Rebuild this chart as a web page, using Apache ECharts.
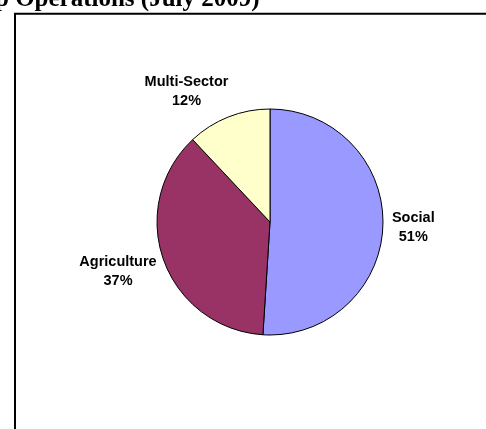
<!DOCTYPE html>
<html>
<head>
<meta charset="utf-8">
<script src="https://cdn.jsdelivr.net/npm/echarts@6/dist/echarts.min.js"></script>
<style>
html,body{margin:0;padding:0;background:#fff;}
#chart{width:486px;height:429px;}
</style>
</head>
<body>
<div id="chart"></div>
<script>
const titleText = 'p Operations (July 2009)';
const categories = ['Social', 'Agriculture', 'Multi-Sector'];
const values = [51, 37, 12];
const sliceColors = ['#9999FF', '#993366', '#FFFFCC'];
// label nudges (style only)
const labelNudges = [[4, 2], [-2, 11], [5, -25]];

const chart = echarts.init(document.getElementById('chart'), null, {renderer: 'canvas'});
chart.setOption({
  animation: false,
  backgroundColor: '#ffffff',
  title: {
    text: titleText,
    left: -5,
    top: -13,
    padding: 0,
    textStyle: {fontFamily: '"Liberation Serif", serif', fontWeight: 'bold', fontSize: 25, color: '#000'}
  },
  graphic: [{
    type: 'rect',
    shape: {x: 15, y: 13.7, width: 600, height: 600},
    style: {fill: 'none', stroke: '#000', lineWidth: 2},
    silent: true
  }],
  series: [{
    type: 'pie',
    center: [270, 222],
    radius: 113,
    startAngle: 90,
    clockwise: true,
    avoidLabelOverlap: false,
    data: categories.map((c, i) => ({name: c, value: values[i], itemStyle: {color: sliceColors[i]}})),
    itemStyle: {borderColor: '#000', borderWidth: 1},
    label: {
      show: true,
      position: 'outside',
      formatter: p => p.name + '\n' + Math.round(p.percent) + '%',
      fontFamily: '"Liberation Sans", Arial, sans-serif',
      fontWeight: 'bold',
      fontSize: 14.5,
      lineHeight: 19,
      color: '#000'
    },
    labelLine: {show: false, length: 0, length2: 0},
    labelLayout: function (p) {
      const sign = p.align === 'left' ? 1 : (p.align === 'right' ? -1 : 0);
      const n = labelNudges[p.dataIndex];
      return {align: 'center', dx: sign * p.labelRect.width / 2 + n[0], dy: n[1]};
    },
    emphasis: {disabled: true}
  }]
});
</script>
</body>
</html>
